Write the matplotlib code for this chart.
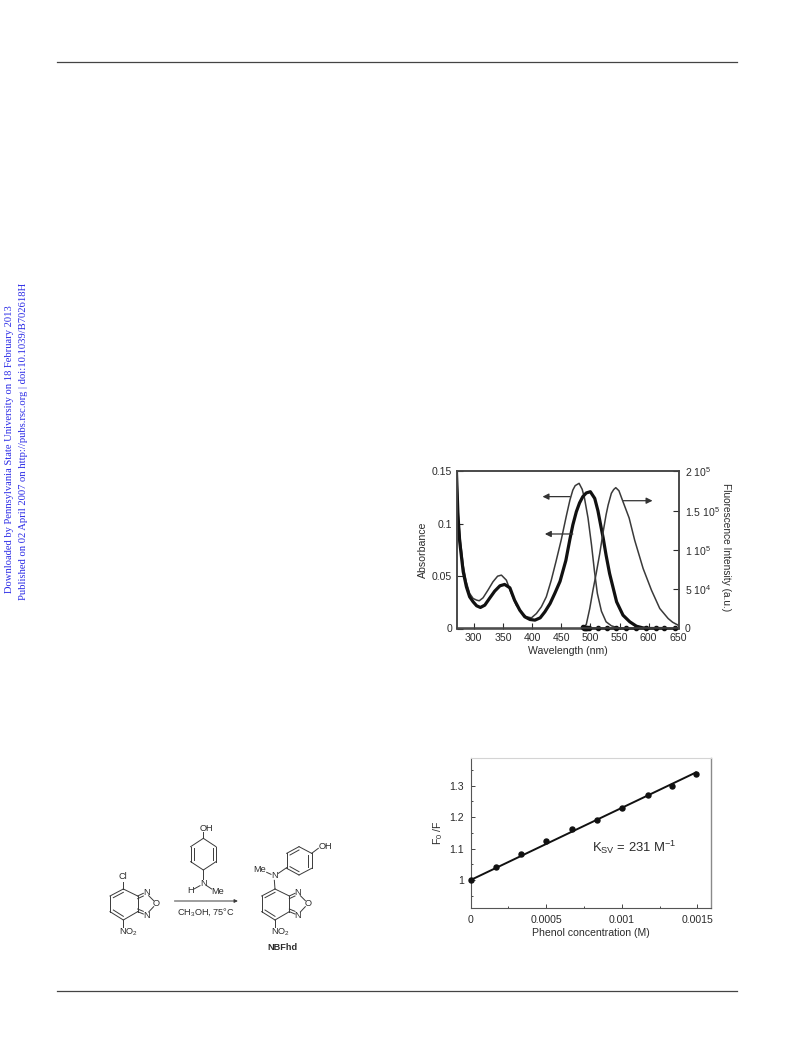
import matplotlib
matplotlib.use("Agg")
import matplotlib.pyplot as plt

plt.rcParams['font.family'] = ['Liberation Sans', 'DejaVu Sans']
plt.rcParams['mathtext.fontset'] = 'custom'
plt.rcParams['mathtext.rm'] = 'Liberation Sans'
plt.rcParams['mathtext.it'] = 'Liberation Sans'
plt.rcParams['mathtext.default'] = 'regular'

# Spectra, absorbance on the left axis and emission on the right axis
thin_abs_x = [271, 273, 276, 282, 287, 293, 299, 305, 309.5, 316, 324.5, 333, 341, 347.5, 356, 364.5, 373, 381.5,
              390, 399, 407.5, 416, 424.5, 433, 441, 450, 459, 465, 470, 474, 480.7, 486, 490, 496, 502, 507, 512,
              519, 527, 536, 547, 562, 600]
thin_abs_y = [0.15, 0.115, 0.09, 0.06, 0.045, 0.0335, 0.0287, 0.0271, 0.0265, 0.0293, 0.0367, 0.0446, 0.05, 0.051,
              0.0462, 0.0335, 0.0223, 0.0159, 0.0112, 0.0102, 0.0143, 0.0207, 0.0303, 0.0462, 0.0638, 0.0845, 0.108,
              0.1228, 0.1323, 0.1365, 0.1387, 0.133, 0.1244, 0.1056, 0.0798, 0.055, 0.0335, 0.0165, 0.0064, 0.0026,
              0.0006, 0.0, 0.0]
thick_abs_x = [270.5, 273, 276, 282, 287.5, 293, 299, 305, 311.5, 319, 327, 336, 345, 353, 362, 370, 379, 387.5,
               396.5, 405, 414, 422, 431, 439, 448, 458, 465, 470, 476, 481.5, 487, 493, 500, 507.5, 513, 519, 522,
               527, 533, 545, 556, 567.6, 579, 590, 600, 620]
thick_abs_y = [0.1482, 0.1084, 0.0829, 0.0542, 0.0398, 0.0303, 0.0255, 0.0217, 0.0201, 0.0223, 0.0287, 0.0357,
               0.0408, 0.0421, 0.0389, 0.0271, 0.0175, 0.0112, 0.0086, 0.008, 0.0102, 0.0159, 0.0239, 0.0335, 0.045,
               0.065, 0.0855, 0.099, 0.1116, 0.12, 0.1259, 0.1295, 0.1307, 0.1243, 0.1125, 0.095, 0.0864, 0.07,
               0.0525, 0.0255, 0.0127, 0.0064, 0.0022, 0.0006, 0.0, 0.0]
emission_x = [487.5, 493, 499, 504.5, 510, 516, 522, 527, 530.5, 536, 540, 543.6, 549, 556, 566.5, 576, 590.5,
              604.8, 619, 633.4, 641, 650.5]
emission_y = [850, 5100, 25500, 48900, 70000, 95000, 123300, 145000, 157300, 172200, 177000, 179400, 175500, 161500,
              140800, 112500, 76400, 48800, 25500, 12700, 8000, 4200]
quenched_x = [487, 489, 491, 493, 495, 497, 513, 528.6, 544.6, 561.7, 577.7, 595, 612, 627, 644.6]
quenched_y = [1300, 1200, 1000, 800, 500, 400, 300, 200, 200, 100, 100, 100, 100, 100, 100]

wave_ticks = [300, 350, 400, 450, 500, 550, 600, 650]
abs_ticks = [0, 0.05, 0.1, 0.15]
abs_labels = ['0', '0.05', '0.1', '0.15']
fluo_ticks = [0, 50000, 100000, 150000, 200000]
fluo_labels = ['0', r'5 10$^4$', r'1 10$^5$', r'1.5 10$^5$', r'2 10$^5$']

# Stern-Volmer plot
phenol_x = [0, 0.000167, 0.000333, 0.0005, 0.000667, 0.000833, 0.001, 0.00117, 0.00133, 0.00149]
ratio_y = [1.0, 1.04, 1.082, 1.125, 1.162, 1.19, 1.228, 1.27, 1.298, 1.338]
fit_x = [0, 0.00149]
fit_y = [1.0, 1.342]
phenol_ticks = [0, 0.0005, 0.001, 0.0015]
phenol_labels = ['0', '0.0005', '0.001', '0.0015']
ratio_ticks = [1, 1.1, 1.2, 1.3]
ratio_labels = ['1', '1.1', '1.2', '1.3']

W, H = 793, 1040
ink = '#2b2b2b'
fig = plt.figure(figsize=(W / 100, H / 100), dpi=100, facecolor='white')


def axes_px(left, top, right, bottom):
    return fig.add_axes([left / W, 1 - bottom / H, (right - left) / W, (bottom - top) / H])


# Page furniture and the reaction scheme live on an overlay in pixel units
page = fig.add_axes([0, 0, 1, 1])
page.set_xlim(0, W)
page.set_ylim(H, 0)
page.axis('off')
page.plot([57, 737], [62, 62], color='#444444', lw=0.9)
page.plot([57, 737], [991, 991], color='#444444', lw=0.9)
page.text(10, 593, 'Downloaded by Pennsylvania State University on 18 February 2013', rotation=90,
          color='#2a2ae6', fontsize=7.6, family='Liberation Serif', ha='center', va='bottom')
page.text(24, 600, 'Published on 02 April 2007 on http://pubs.rsc.org | doi:10.1039/B702618H', rotation=90,
          color='#2a2ae6', fontsize=7.7, family='Liberation Serif', ha='center', va='bottom')


def zx(v):
    return 90 + v / 3


def zy(v):
    return 815 + v / 3


def bond(x1, y1, x2, y2):
    page.plot([zx(x1), zx(x2)], [zy(y1), zy(y2)], color='#3a3a3a', lw=0.7)


def label(x, y, s, size=6.6, **kw):
    page.text(zx(x), zy(y), s, fontsize=size, color=ink, ha='center', va='center', **kw)


def ring(pts):
    for i in range(6):
        bond(*pts[i], *pts[(i + 1) % 6])


def nbd_core(dx):
    ring([(100 + dx, 222), (143 + dx, 243), (143 + dx, 290), (100 + dx, 315), (60 + dx, 290), (60 + dx, 243)])
    bond(70 + dx, 248, 100 + dx, 232)
    bond(70 + dx, 285, 100 + dx, 304)
    bond(143 + dx, 243, 160 + dx, 235)
    bond(143 + dx, 251, 160 + dx, 243)
    bond(143 + dx, 290, 160 + dx, 297)
    bond(143 + dx, 282, 160 + dx, 289)
    bond(176 + dx, 242, 191 + dx, 257)
    bond(191 + dx, 275, 176 + dx, 291)
    bond(100 + dx, 315, 100 + dx, 335)
    label(169 + dx, 232, 'N')
    label(198 + dx, 265, 'O')
    label(169 + dx, 300, 'N')
    label(115 + dx, 352, r'NO$_2$')


nbd_core(0)
bond(100, 222, 100, 200)
label(100, 185, 'Cl')

# amine reagent above the arrow
ring([(340, 70), (378, 95), (378, 140), (340, 165), (302, 140), (302, 95)])
bond(311, 100, 311, 135)
bond(369, 100, 369, 135)
bond(340, 70, 340, 52)
bond(340, 165, 340, 192)
bond(330, 212, 312, 222)
bond(350, 212, 365, 222)
label(350, 40, 'OH')
label(340, 205, 'N')
label(301, 227, 'H')
label(383, 228, 'Me')
page.annotate('', xy=(zx(452), zy(258)), xytext=(zx(245), zy(258)),
              arrowprops=dict(arrowstyle='-|>', color='#3a3a3a', lw=0.7, mutation_scale=5))
label(347, 290, r'CH$_3$OH, 75°C')

# product
nbd_core(455)
bond(555, 222, 553, 196)
bond(565, 175, 590, 158)
bond(530, 172, 543, 178)
ring([(590, 160), (590, 115), (627, 95), (665, 115), (665, 160), (627, 180)])
bond(600, 120, 627, 105)
bond(655, 120, 655, 155)
bond(600, 155, 627, 170)
bond(665, 115, 685, 100)
label(553, 183, 'N')
label(510, 165, 'Me')
label(705, 95, 'OH')
label(577, 397, 'NBFhd', fontweight='bold')

# Absorbance / fluorescence chart
ax = axes_px(456.5, 471.5, 679, 628.5)
ax.plot(thin_abs_x, thin_abs_y, color='#3a3a3a', lw=1.1)
ax.plot(thick_abs_x, thick_abs_y, color='#111111', lw=2.3)
ax.set_xlim(270.5, 652)
ax.set_ylim(0, 0.15)
ax.set_xticks(wave_ticks)
ax.set_xticklabels(wave_ticks)
ax.set_yticks(abs_ticks)
ax.set_yticklabels(abs_labels)
ax.tick_params(direction='in', length=4.2, width=0.8, labelsize=7.6, colors=ink, pad=3)
ax.set_xlabel('Wavelength (nm)', fontsize=7.6, color=ink, labelpad=2.5)
ax.set_ylabel('Absorbance', fontsize=7.6, color=ink, labelpad=3)
arrow_style = dict(arrowstyle='-|>', color='#333333', lw=0.9, mutation_scale=9, shrinkA=0, shrinkB=0)
ax.annotate('', xy=(418, 0.126), xytext=(465, 0.126), arrowprops=arrow_style)
ax.annotate('', xy=(422, 0.0903), xytext=(470, 0.0903), arrowprops=arrow_style)
ax.annotate('', xy=(606.6, 0.1221), xytext=(556, 0.1221), arrowprops=arrow_style)

ax2 = ax.twinx()
ax2.plot(emission_x, emission_y, color='#3a3a3a', lw=1.1)
ax2.plot(quenched_x, quenched_y, color='#111111', lw=1.6, marker='o', ms=3, clip_on=False)
ax2.set_ylim(0, 200000)
ax2.set_yticks(fluo_ticks)
ax2.set_yticklabels(fluo_labels)
ax2.tick_params(direction='in', length=4.2, width=0.8, labelsize=7.6, colors=ink, pad=4)
ax2.set_ylabel('Fluorescence Intensity (a.u.)', fontsize=7.3, color=ink, rotation=-90, labelpad=8, y=0.52)
for a in (ax, ax2):
    for s in a.spines.values():
        s.set_linewidth(1.1)
        s.set_color('#444444')

# Stern-Volmer chart
bx = axes_px(470.7, 758, 711, 908)
bx.plot(fit_x, fit_y, color='#111111', lw=1.4)
bx.plot(phenol_x, ratio_y, 'o', color='#111111', ms=3.6, clip_on=False, zorder=5)
bx.set_xlim(0, 0.00159)
bx.set_ylim(0.911, 1.388)
bx.set_xticks(phenol_ticks)
bx.set_xticklabels(phenol_labels)
bx.set_xticks([0.00025, 0.00075, 0.00125], minor=True)
bx.set_yticks(ratio_ticks)
bx.set_yticklabels(ratio_labels)
bx.set_yticks([0.95, 1.05, 1.15, 1.25, 1.35], minor=True)
bx.tick_params(which='major', direction='in', length=3, width=0.7, labelsize=7.6, colors='#444444', labelcolor=ink, pad=5)
bx.tick_params(which='minor', direction='in', length=1.5, width=0.7, colors='#444444')
bx.spines['left'].set_color('#555555')
bx.spines['bottom'].set_color('#555555')
bx.spines['top'].set_color('#d4d4d4')
bx.spines['right'].set_color('#8a8a8a')
bx.spines['right'].set_linewidth(1.0)
bx.set_xlabel('Phenol concentration (M)', fontsize=7.6, color=ink, labelpad=2)
bx.set_ylabel(r'F$_0$ /F', fontsize=7.6, color=ink, labelpad=3)
bx.text(0.0008, 1.105, r'K$_{SV}$ = 231 M$^{-1}$', fontsize=9.4, color=ink, va='center')

fig.savefig('out.png', dpi=100)
